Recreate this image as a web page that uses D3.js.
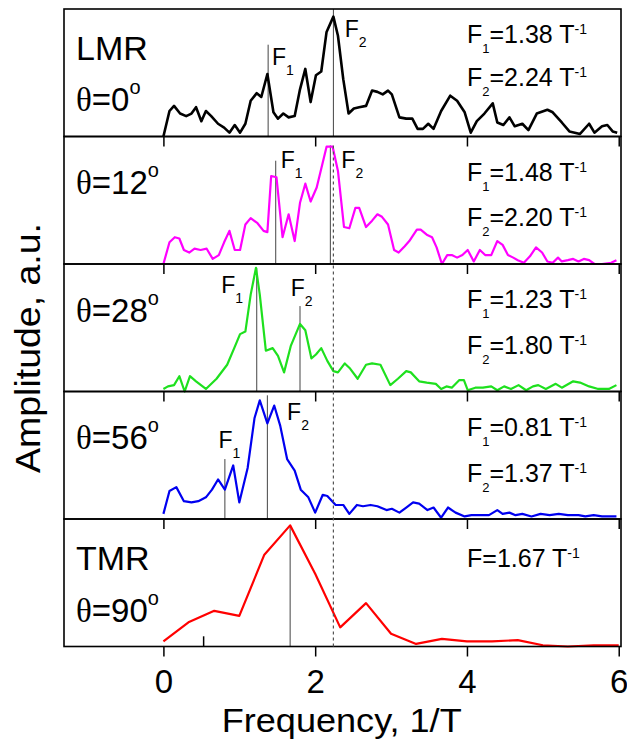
<!DOCTYPE html>
<html><head><meta charset="utf-8">
<script src="https://cdn.jsdelivr.net/npm/d3@7"></script>
<style>body{margin:0;background:#fff}svg{display:block}</style>
</head><body>
<script>
// ---------- data ----------
const xTickValues = [0, 2, 4, 6];
const panelTitles = ["LMR", "", "", "", "TMR"];
const panelAngles = ["0", "12", "28", "56", "90"];

const lmrFreq = [0,0.08,0.14,0.22,0.30,0.37,0.43,0.50,0.56,0.63,0.72,0.80,0.87,0.94,1.01,1.08,1.15,1.23,1.29,1.37,1.45,1.51,1.58,1.65,1.73,1.80,1.87,1.94,2.01,2.08,2.15,2.24,2.30,2.37,2.44,2.51,2.58,2.67,2.75,2.82,2.89,2.96,3.01,3.11,3.20,3.28,3.35,3.42,3.49,3.56,3.66,3.78,3.87,3.97,4.05,4.13,4.23,4.34,4.40,4.48,4.56,4.63,4.73,4.81,4.92,5.06,5.13,5.25,5.35,5.49,5.61,5.68,5.78,5.85,5.92,5.98];
const lmrAmp  = [0,0.20,0.24,0.18,0.16,0.18,0.23,0.12,0.20,0.16,0.10,0.07,0.03,0.09,0.03,0.10,0.28,0.34,0.31,0.49,0.19,0.14,0.18,0.15,0.16,0.37,0.53,0.27,0.48,0.51,0.82,0.94,0.79,0.45,0.18,0.22,0.23,0.24,0.36,0.35,0.33,0.36,0.33,0.15,0.14,0.14,0.06,0.06,0.10,0.06,0.20,0.32,0.28,0.19,0.03,0.12,0.18,0.26,0.11,0.09,0.15,0.08,0.10,0.05,0.18,0.21,0.19,0.11,0.04,0.02,0.10,0.03,0.08,0.09,0.04,0.03];

const a12Freq = [0,0.08,0.15,0.21,0.27,0.34,0.41,0.49,0.57,0.65,0.73,0.80,0.87,0.94,1.01,1.08,1.15,1.24,1.32,1.37,1.42,1.49,1.57,1.65,1.73,1.80,1.87,1.94,2.02,2.15,2.23,2.30,2.38,2.45,2.53,2.58,2.67,2.75,2.82,2.88,2.96,3.04,3.10,3.18,3.24,3.34,3.39,3.47,3.54,3.60,3.67,3.74,3.80,3.87,3.94,4.01,4.09,4.17,4.24,4.32,4.40,4.47,4.54,4.61,4.67,4.75,4.83,4.91,4.99,5.06,5.13,5.20,5.25,5.33,5.40,5.47,5.54,5.61,5.68,5.78,5.90,5.97];
const a12Amp  = [0,0.17,0.21,0.20,0.11,0.09,0.12,0.11,0.12,0.04,0.07,0.17,0.26,0.11,0.11,0.31,0.36,0.32,0.26,0.25,0.69,0.68,0.21,0.39,0.18,0.48,0.63,0.49,0.60,0.92,0.92,0.73,0.29,0.28,0.44,0.44,0.29,0.34,0.39,0.37,0.31,0.11,0.09,0.14,0.18,0.27,0.27,0.23,0.21,0.13,0,0.07,0.07,0.05,0.07,0.11,0.02,0.11,0.07,0.07,0.18,0.15,0.07,0.05,0.03,0.01,0.06,0.13,0.09,0.02,0.01,0.05,0.02,0.03,0.04,0.02,0.04,0.03,0,0,0.01,0.03];

const a28Freq = [0,0.06,0.14,0.21,0.28,0.35,0.43,0.56,0.70,0.84,0.94,1.01,1.08,1.15,1.22,1.27,1.35,1.44,1.51,1.59,1.68,1.80,1.87,1.95,2.01,2.08,2.16,2.24,2.30,2.39,2.46,2.56,2.67,2.75,2.86,2.99,3.09,3.20,3.26,3.37,3.47,3.59,3.66,3.73,3.80,3.90,3.96,4.01,4.11,4.21,4.32,4.40,4.49,4.58,4.68,4.78,4.87,4.94,5.04,5.17,5.25,5.40,5.49,5.61,5.73,5.87,5.97];
const a28Amp  = [0.02,0.04,0.05,0.12,0,0.12,0.08,0.02,0.10,0.21,0.35,0.45,0.47,0.76,0.97,0.76,0.32,0.34,0.28,0.15,0.36,0.53,0.48,0.26,0.29,0.34,0.24,0.16,0.15,0.22,0.18,0.10,0.21,0.22,0.21,0.05,0.10,0.16,0.15,0.08,0.07,0.06,0.02,0.04,0.03,0.09,0.09,0.01,0.03,0.03,0.04,0.01,0.04,0.02,0.05,0.01,0.04,0.05,0.02,0.06,0.03,0.08,0.07,0.04,0.02,0.02,0.05];

const a56Freq = [0,0.08,0.17,0.27,0.37,0.46,0.56,0.64,0.72,0.81,0.92,1.00,1.11,1.20,1.27,1.37,1.46,1.54,1.63,1.73,1.81,1.91,2.00,2.10,2.16,2.27,2.37,2.45,2.55,2.63,2.73,2.82,2.94,3.01,3.11,3.20,3.29,3.37,3.48,3.56,3.66,3.75,3.85,3.97,4.06,4.18,4.29,4.40,4.47,4.56,4.64,4.73,4.85,4.97,5.09,5.21,5.33,5.47,5.56,5.67,5.78,5.87,5.97];
const a56Amp  = [0.04,0.22,0.25,0.14,0.13,0.14,0.17,0.23,0.31,0.23,0.42,0.13,0.40,0.79,0.93,0.75,0.89,0.73,0.47,0.38,0.23,0.17,0.05,0.19,0.18,0.11,0.11,0.04,0.11,0.10,0.11,0.10,0.07,0.08,0.05,0.09,0.13,0.12,0.07,0.09,0.01,0.09,0.05,0.02,0.03,0.03,0.03,0.07,0.04,0.05,0.03,0.04,0.02,0.04,0.03,0.04,0.03,0.03,0.02,0.03,0.02,0.02,0.02];

const tmrFreq = [0,0.33,0.67,1.00,1.33,1.67,2.00,2.33,2.67,3.00,3.33,3.67,4.00,4.33,4.67,5.00,5.33,5.67,6.00];
const tmrAmp  = [0.04,0.19,0.28,0.24,0.72,0.95,0.57,0.15,0.34,0.10,0.02,0.06,0.04,0.04,0.05,0.01,0,0.01,0.01];

// peak frequencies (values printed) and the height reached by each marker line
const peakValues = [["1.38","2.24"],["1.48","2.20"],["1.23","1.80"],["0.81","1.37"],["1.67"]];
const peakLineTop = [[0.72,1.0],[0.81,0.93],[0.97,0.67],[0.47,0.97],[0.95]];
const dashedFreq = 2.24;
const tmrExtraMark = [0.53];

// ---------- layout / style ----------
const W = 627, H = 742;
const left = 64, right = 621, top0 = 9, panelH = 127.5;
const colors = ["#000000", "#ff00ff", "#1ee01e", "#0000f0", "#ff0000"];
const strokeW = [2.6, 2.2, 2.2, 2.2, 2.2];
// peak-label positions [freq, amp] for F1/F2 labels
const peakLabelPos = [[[1.43,0.56],[2.39,0.78]],[[1.545,0.75],[2.345,0.75]],[[0.763,0.77],[1.678,0.75]],[[0.725,0.555],[1.63,0.78]],[]];
const annotOffsets = [[34,77],[44,89],[44,90],[44,90],[48]];
const titleOffsets = [[51,102],[null,57],[null,57.5],[null,57],[51,103]];

const seriesList = [
  d3.zip(lmrFreq, lmrAmp), d3.zip(a12Freq, a12Amp), d3.zip(a28Freq, a28Amp),
  d3.zip(a56Freq, a56Amp), d3.zip(tmrFreq, tmrAmp)
];

const svg = d3.select("body").append("svg").attr("width", W).attr("height", H)
  .style("font-family", "'Liberation Sans', Arial, sans-serif");

const x = d3.scaleLinear().domain([-1.31, 6.03]).range([left, right]);

const ys = seriesList.map((_, i) => {
  const t = top0 + i * panelH;
  return d3.scaleLinear().domain([0, 1]).range([t + panelH, t]);
});

seriesList.forEach((pts, i) => {
  const y = ys[i];
  const t = top0 + i * panelH;
  const g = svg.append("g");

  // peak marker lines
  peakValues[i].forEach((v, k) => {
    g.append("line")
      .attr("x1", x(+v)).attr("x2", x(+v))
      .attr("y1", y(0)).attr("y2", y(peakLineTop[i][k]))
      .attr("stroke", "#444").attr("stroke-width", 1);
  });

  if (i === 4) {
    tmrExtraMark.forEach(f => {
      g.append("line").attr("x1", x(f)).attr("x2", x(f))
        .attr("y1", y(0)).attr("y2", y(0.08))
        .attr("stroke", "#000").attr("stroke-width", 1.5);
    });
  }

  // curve
  g.append("path").datum(pts)
    .attr("d", d3.line().x(d => x(d[0])).y(d => y(d[1])))
    .attr("fill", "none").attr("stroke", colors[i])
    .attr("stroke-width", strokeW[i]).attr("stroke-linejoin", "round");

  // axis ticks
  const axis = d3.axisBottom(x).tickValues(xTickValues).tickSize(10).tickPadding(13)
    .tickFormat(i === 4 ? d3.format("d") : () => "");
  const ag = svg.append("g").attr("transform", `translate(0,${t + panelH})`).call(axis);
  ag.select(".domain").remove();
  ag.selectAll(".tick line").attr("stroke", "#000").attr("stroke-width", 1.5);
  ag.selectAll(".tick text").attr("font-size", 33).attr("fill", "#000")
    .style("font-family", "'Liberation Sans', Arial, sans-serif");

  // frame
  svg.append("rect").attr("x", left).attr("y", t).attr("width", right - left).attr("height", panelH)
    .attr("fill", "none").attr("stroke", "#000").attr("stroke-width", 1.6);

  // panel title and angle
  if (panelTitles[i]) {
    svg.append("text").attr("x", 76).attr("y", t + titleOffsets[i][0])
      .attr("font-size", 34).text(panelTitles[i]);
  }
  const th = svg.append("text").attr("x", 76).attr("y", t + titleOffsets[i][1]).attr("font-size", 33);
  th.append("tspan").style("font-family", "'Liberation Serif', 'Times New Roman', serif").text("θ");
  th.append("tspan").text("=" + panelAngles[i]);
  th.append("tspan").attr("font-size", 20).attr("dy", -17).text("o");

  // right annotations
  peakValues[i].forEach((v, k) => {
    const tx = svg.append("text").attr("x", 467).attr("y", t + annotOffsets[i][k]).attr("font-size", 25);
    tx.append("tspan").text("F");
    if (peakValues[i].length > 1) {
      tx.append("tspan").attr("font-size", 13).attr("dy", 10).text(String(k + 1));
      tx.append("tspan").attr("dy", -10).text("=" + v + " T");
    } else {
      tx.append("tspan").text("=" + v + " T");
    }
    tx.append("tspan").attr("font-size", 14).attr("dy", -9).text("-1");
  });

  // F1/F2 peak labels
  peakLabelPos[i].forEach((p, k) => {
    const lt = svg.append("text").attr("x", x(p[0])).attr("y", y(p[1])).attr("font-size", 23);
    lt.append("tspan").text("F");
    lt.append("tspan").attr("font-size", 14).attr("dy", 10).text(String(k + 1));
  });
});

// dashed reference line through panels 2-5
svg.append("line")
  .attr("x1", x(dashedFreq)).attr("x2", x(dashedFreq))
  .attr("y1", ys[1](0.93)).attr("y2", ys[4](0))
  .attr("stroke", "#555").attr("stroke-width", 1.2).attr("stroke-dasharray", "3,3");

// axis titles
svg.append("text").attr("x", 341.7).attr("y", 732).attr("text-anchor", "middle")
  .attr("font-size", 33).attr("textLength", 240).attr("lengthAdjust", "spacingAndGlyphs")
  .text("Frequency, 1/T");
svg.append("text").attr("transform", "translate(40,348) rotate(-90)").attr("text-anchor", "middle")
  .attr("font-size", 35).attr("textLength", 250).attr("lengthAdjust", "spacingAndGlyphs")
  .text("Amplitude, a.u.");
</script>
</body></html>
